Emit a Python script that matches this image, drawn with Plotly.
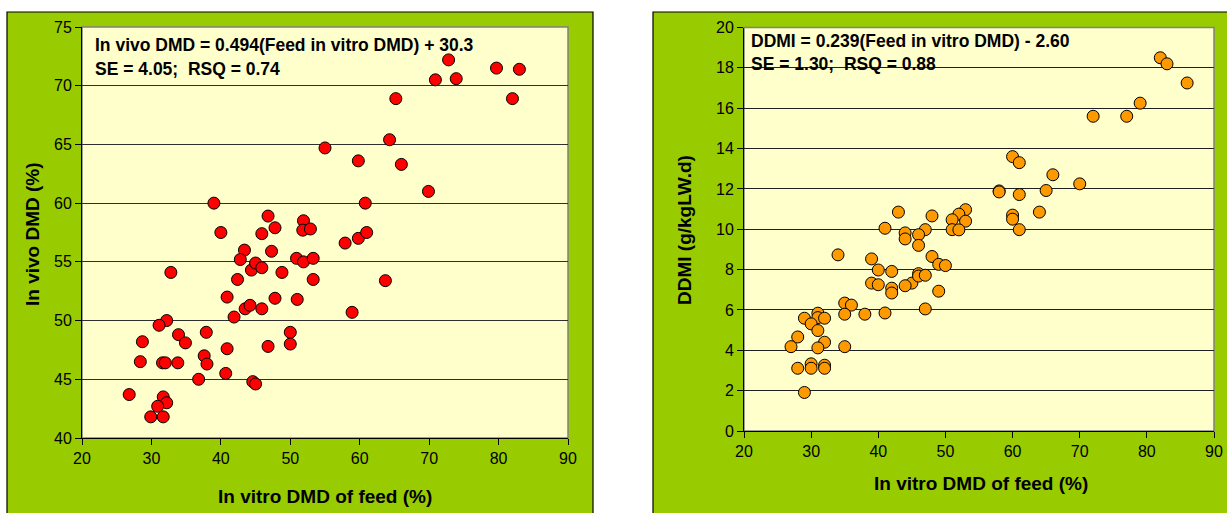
import plotly.graph_objects as go

# ---------------- data ----------------
# Left chart: In vitro DMD of feed (%) vs In vivo DMD (%)
left_x = [72.8, 79.7, 83.0, 70.9, 73.9, 65.2, 82.0, 64.3, 55.0, 59.8, 66.0, 69.9,
          39.0, 60.8, 40.0, 46.8, 45.9, 47.8, 51.9, 51.8, 52.9, 57.9, 59.8, 61.0,
          43.4, 42.8, 47.3, 44.4, 45.0, 45.9, 50.9, 51.9, 53.3, 42.4, 48.8, 53.3,
          63.7, 32.8, 40.9, 47.8, 51.0, 43.5, 44.2, 45.9, 41.9, 58.9, 32.2, 31.1,
          37.9, 50.0, 33.9, 34.9, 28.7, 40.9, 46.8, 50.0, 37.6, 38.0, 28.4, 31.6,
          32.0, 33.8, 36.8, 40.7, 44.6, 45.0, 26.8, 31.7, 32.2, 30.9, 29.9, 31.7]
left_y = [72.2, 71.5, 71.4, 70.5, 70.6, 68.9, 68.9, 65.4, 64.7, 63.6, 63.3, 61.0,
          60.0, 60.0, 57.5, 58.9, 57.4, 57.9, 58.5, 57.7, 57.8, 56.6, 57.0, 57.5,
          56.0, 55.2, 55.9, 54.3, 54.9, 54.5, 55.3, 55.0, 55.3, 53.5, 54.1, 53.5,
          53.4, 54.1, 52.0, 51.9, 51.8, 51.0, 51.3, 51.0, 50.3, 50.7, 50.0, 49.6,
          49.0, 49.0, 48.8, 48.1, 48.2, 47.6, 47.8, 48.0, 47.0, 46.3, 46.5, 46.4,
          46.4, 46.4, 45.0, 45.5, 44.8, 44.6, 43.7, 43.5, 43.0, 42.7, 41.8, 41.8]

# Right chart: In vitro DMD of feed (%) vs DDMI (g/kgLW.d)
right_x = [82, 83, 86, 79, 72, 77, 60, 61, 66, 70, 58, 58,
           61, 65, 43, 64, 53, 48, 52, 51, 60, 60, 53, 51,
           52, 61, 41, 47, 44, 44, 46, 46, 34, 39, 48, 49,
           50, 40, 42, 39, 40, 45, 44, 46, 46, 47, 42, 42,
           49, 47, 35, 36, 35, 38, 41, 31, 31, 29, 32, 30,
           31, 28, 27, 32, 31, 35, 28, 30, 30, 32, 32, 29]
right_y = [18.5, 18.2, 17.25, 16.25, 15.6, 15.6, 13.6, 13.3, 12.7, 12.25, 11.9, 11.85,
           11.72, 11.92, 10.85, 10.85, 10.97, 10.66, 10.75, 10.47, 10.7, 10.5, 10.4, 9.98,
           9.97, 9.98, 10.05, 9.98, 9.82, 9.52, 9.73, 9.2, 8.73, 8.53, 8.65, 8.26,
           8.2, 7.98, 7.91, 7.33, 7.25, 7.33, 7.2, 7.8, 7.68, 7.72, 7.08, 6.84,
           6.93, 6.05, 6.34, 6.24, 5.79, 5.79, 5.85, 5.84, 5.62, 5.59, 5.59, 5.31,
           4.98, 4.66, 4.18, 4.4, 4.12, 4.18, 3.11, 3.33, 3.11, 3.26, 3.11, 1.91]

x_ticks = [20, 30, 40, 50, 60, 70, 80, 90]
left_y_ticks = [40, 45, 50, 55, 60, 65, 70, 75]
right_y_ticks = [0, 2, 4, 6, 8, 10, 12, 14, 16, 18, 20]

left_eq = ["In vivo DMD = 0.494(Feed in vitro DMD) + 30.3", "SE = 4.05;  RSQ = 0.74"]
right_eq = ["DDMI = 0.239(Feed in vitro DMD) - 2.60", "SE = 1.30;  RSQ = 0.88"]
x_title = "In vitro DMD of feed (%)"
left_y_title = "In vivo DMD (%)"
right_y_title = "DDMI (g/kgLW.d)"

# ---------------- layout geometry ----------------
W, H = 1227, 513
FONT = "Arial, Liberation Sans, sans-serif"
GREEN = "#99CC00"
YELLOW = "#FFFFCC"

def px(x):
    return x / W

def py(y):
    return 1 - y / H

L_dom_x = [px(82), px(568)]
L_dom_y = [py(438), py(27)]
R_dom_x = [px(744), px(1214)]
R_dom_y = [py(431), py(27.5)]

fig = go.Figure()
fig.add_trace(go.Scatter(
    x=left_x, y=left_y, mode="markers", xaxis="x", yaxis="y",
    marker=dict(size=12, color="#FF0000", line=dict(color="#000000", width=1)),
    showlegend=False, hoverinfo="x+y"))
fig.add_trace(go.Scatter(
    x=right_x, y=right_y, mode="markers", xaxis="x2", yaxis="y2",
    marker=dict(size=12, color="#FF9900", line=dict(color="#000000", width=1)),
    showlegend=False, hoverinfo="x+y"))

axis_common = dict(
    showline=True, linecolor="#000000", linewidth=1,
    ticks="outside", ticklen=6, tickcolor="#000000", tickwidth=1,
    tickfont=dict(family=FONT, size=16, color="#000000"),
    zeroline=False, fixedrange=True, automargin=False,
)

shapes = [
    # green panels
    dict(type="rect", xref="paper", yref="paper", x0=px(7), x1=px(593), y0=-0.2, y1=py(12),
         fillcolor=GREEN, line=dict(color="#000000", width=1.2), layer="below"),
    dict(type="rect", xref="paper", yref="paper", x0=px(653), x1=1.2, y0=-0.2, y1=py(12),
         fillcolor=GREEN, line=dict(color="#000000", width=1.2), layer="below"),
    # plot areas
    dict(type="rect", xref="paper", yref="paper", x0=L_dom_x[0], x1=L_dom_x[1],
         y0=L_dom_y[0], y1=L_dom_y[1], fillcolor=YELLOW,
         line=dict(color="#808080", width=1.5), layer="below"),
    dict(type="rect", xref="paper", yref="paper", x0=R_dom_x[0], x1=R_dom_x[1],
         y0=R_dom_y[0], y1=R_dom_y[1], fillcolor=YELLOW,
         line=dict(color="#808080", width=1.5), layer="below"),
]

annotations = []
eq_font = dict(family=FONT, size=17.5, color="#000000")
for i, yy in enumerate([45, 68.5]):
    annotations.append(dict(text="<b>%s</b>" % left_eq[i], x=px(93), y=py(yy), xref="paper", yref="paper",
                            xanchor="left", yanchor="middle", showarrow=False, font=eq_font))
for i, yy in enumerate([41, 64]):
    annotations.append(dict(text="<b>%s</b>" % right_eq[i], x=px(749), y=py(yy), xref="paper", yref="paper",
                            xanchor="left", yanchor="middle", showarrow=False, font=eq_font))

title_font = dict(family=FONT, size=19, color="#000000")
annotations += [
    dict(text="<b>%s</b>" % x_title, x=px(325), y=py(496.5), xref="paper", yref="paper",
         xanchor="center", yanchor="middle", showarrow=False, font=title_font),
    dict(text="<b>%s</b>" % x_title, x=px(981), y=py(483.5), xref="paper", yref="paper",
         xanchor="center", yanchor="middle", showarrow=False, font=title_font),
    dict(text="<b>%s</b>" % left_y_title, x=px(32), y=py(234), xref="paper", yref="paper",
         xanchor="center", yanchor="middle", textangle=-90, showarrow=False, font=title_font),
    dict(text="<b>%s</b>" % right_y_title, x=px(684), y=py(230), xref="paper", yref="paper",
         xanchor="center", yanchor="middle", textangle=-90, showarrow=False, font=title_font),
]

fig.update_layout(
    width=W, height=H, autosize=False,
    margin=dict(l=0, r=0, t=0, b=0, pad=0, autoexpand=False),
    paper_bgcolor="#FFFFFF", plot_bgcolor="rgba(0,0,0,0)",
    showlegend=False,
    xaxis=dict(domain=L_dom_x, anchor="y", range=[20, 90], tickvals=x_ticks,
               showgrid=False, **axis_common),
    yaxis=dict(domain=L_dom_y, anchor="x", range=[40, 75], tickvals=left_y_ticks,
               showgrid=True, gridcolor="#303030", gridwidth=1, **axis_common),
    xaxis2=dict(domain=R_dom_x, anchor="y2", range=[20, 90], tickvals=x_ticks,
                showgrid=False, **axis_common),
    yaxis2=dict(domain=R_dom_y, anchor="x2", range=[0, 20], tickvals=right_y_ticks,
                showgrid=True, gridcolor="#202020", gridwidth=1, **axis_common),
    shapes=shapes,
    annotations=annotations,
)

fig.write_html("out.html", include_plotlyjs=True, full_html=True,
               default_width="%dpx" % W, default_height="%dpx" % H,
               config={"responsive": False, "displayModeBar": False})

# pin the figure to the window origin so page margins cannot shift it
css = ("<style>html,body{margin:0!important;padding:0!important;overflow:hidden;"
       "width:%dpx;height:%dpx;}"
       ".plotly-graph-div{position:fixed!important;top:0!important;left:0!important;}</style>" % (W, H))
with open("out.html", "r", encoding="utf-8") as f:
    html = f.read()
if "</head>" in html:
    html = html.replace("</head>", css + "</head>", 1)
else:
    html = css + html
with open("out.html", "w", encoding="utf-8") as f:
    f.write(html)
